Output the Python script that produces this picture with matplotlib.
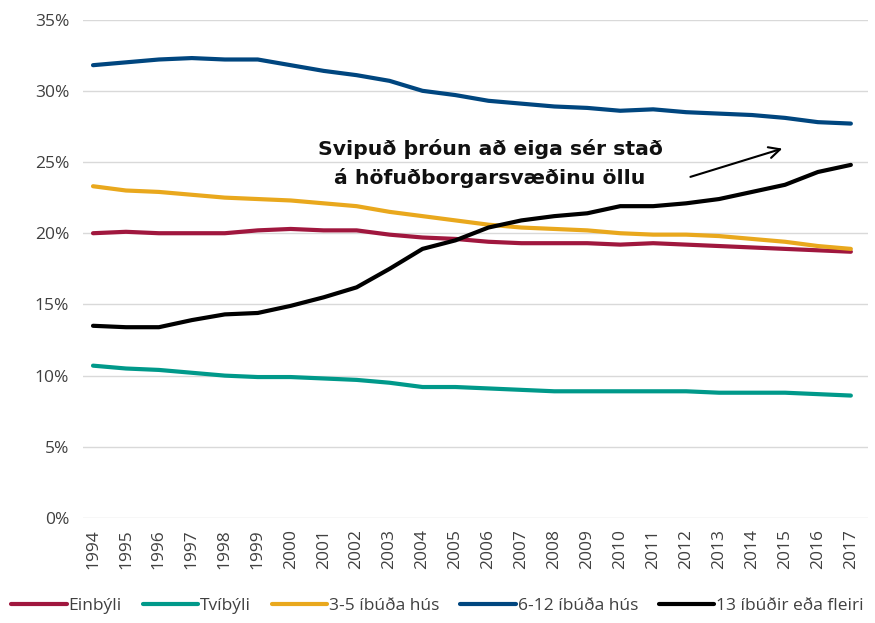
import matplotlib.pyplot as plt
from matplotlib.ticker import FuncFormatter

years = list(range(1994, 2018))

einbyli = [20.0, 20.1, 20.0, 20.0, 20.0, 20.2, 20.3, 20.2, 20.2, 19.9, 19.7, 19.6,
           19.4, 19.3, 19.3, 19.3, 19.2, 19.3, 19.2, 19.1, 19.0, 18.9, 18.8, 18.7]
tvibyli = [10.7, 10.5, 10.4, 10.2, 10.0, 9.9, 9.9, 9.8, 9.7, 9.5, 9.2, 9.2,
           9.1, 9.0, 8.9, 8.9, 8.9, 8.9, 8.9, 8.8, 8.8, 8.8, 8.7, 8.6]
hus_3_5 = [23.3, 23.0, 22.9, 22.7, 22.5, 22.4, 22.3, 22.1, 21.9, 21.5, 21.2, 20.9,
           20.6, 20.4, 20.3, 20.2, 20.0, 19.9, 19.9, 19.8, 19.6, 19.4, 19.1, 18.9]
hus_6_12 = [31.8, 32.0, 32.2, 32.3, 32.2, 32.2, 31.8, 31.4, 31.1, 30.7, 30.0, 29.7,
            29.3, 29.1, 28.9, 28.8, 28.6, 28.7, 28.5, 28.4, 28.3, 28.1, 27.8, 27.7]
hus_13 = [13.5, 13.4, 13.4, 13.9, 14.3, 14.4, 14.9, 15.5, 16.2, 17.5, 18.9, 19.5,
          20.4, 20.9, 21.2, 21.4, 21.9, 21.9, 22.1, 22.4, 22.9, 23.4, 24.3, 24.8]

series = [
    ("Einbýli", einbyli, "#A0173E"),
    ("Tvíbýli", tvibyli, "#00998A"),
    ("3-5 íbúða hús", hus_3_5, "#E9A81D"),
    ("6-12 íbúða hús", hus_6_12, "#00467F"),
    ("13 íbúðir eða fleiri", hus_13, "#000000"),
]

plt.rcParams['font.family'] = ['Open Sans', 'DejaVu Sans']

fig = plt.figure(figsize=(8.75, 6.23), dpi=100)
ax = fig.add_axes([0.095, 0.1685, 0.897, 0.80])

for name, vals, col in series:
    ax.plot(years, vals, color=col, lw=3, label=name, solid_capstyle='round')

ax.set_ylim(0, 35)
ax.set_xlim(1993.7, 2017.52)
ax.set_yticks(range(0, 36, 5))
ax.yaxis.set_major_formatter(FuncFormatter(lambda v, p: f"{int(v)}%"))
ax.set_xticks(years)
ax.set_xticklabels([str(y) for y in years], rotation=90)
ax.tick_params(axis='both', length=0, labelsize=12.5, colors='#404040')
ax.tick_params(axis='x', pad=8)
ax.tick_params(axis='y', pad=10)
ax.grid(axis='y', color='#D9D9D9', lw=1)
ax.set_axisbelow(True)
for s in ax.spines.values():
    s.set_visible(False)

# athugasemd med oru
ax.text(2006.05, 24.9, "Svipuð þróun að eiga sér stað\ná höfuðborgarsvæðinu öllu",
        ha='center', va='center', fontsize=14.7, fontweight='bold', linespacing=1.55,
        family='DejaVu Sans', color='#111111')
ax.annotate("", xy=(2015.0, 26.0), xytext=(2012.05, 23.9),
            arrowprops=dict(arrowstyle='->', color='black', lw=1.5, mutation_scale=20))

fig.legend(loc='lower center', ncol=5, frameon=False, fontsize=12.5,
           bbox_to_anchor=(0.5, -0.01), handlelength=3.2, handletextpad=0.1,
           columnspacing=1.2, labelcolor='#404040')

fig.savefig("out.png", dpi=100)
